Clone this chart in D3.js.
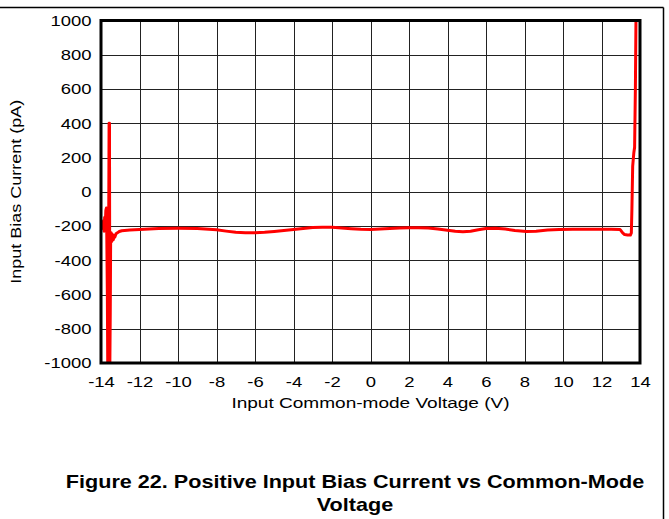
<!DOCTYPE html>
<html>
<head>
<meta charset="utf-8">
<script src="https://cdn.jsdelivr.net/npm/d3@7"></script>
<style>
  body { margin: 0; background: #fff; }
  svg { display: block; font-family: "Liberation Sans", Arial, sans-serif; }
</style>
</head>
<body>
<script>
// ticks
const xTicks = [-14, -12, -10, -8, -6, -4, -2, 0, 2, 4, 6, 8, 10, 12, 14];
const yTicks = [-1000, -800, -600, -400, -200, 0, 200, 400, 600, 800, 1000];

// bias current trace (V, pA)
const voltage = [
  -13.93, -13.9, -13.87, -13.84, -13.81, -13.78, -13.75, -13.72, -13.7, -13.67,
  -13.65, -13.62, -13.6, -13.58, -13.56, -13.54, -13.52, -13.5, -13.47, -13.44,
  -13.4, -13.36, -13.32, -13.28, -13.22, -13.15, -13.05, -12.92, -12.5, -12,
  -11, -10, -9, -8, -7.5, -7, -6.5, -6, -5.5, -5,
  -4.5, -4, -3.5, -3, -2.5, -2, -1.5, -1, -0.5, 0,
  0.5, 1, 1.5, 2, 2.5, 3, 3.5, 4, 4.4, 4.8,
  5.2, 5.6, 6, 6.5, 7, 7.5, 8.1, 8.6, 9.2, 9.8,
  10.5, 11.5, 12.5, 12.95, 13.02, 13.1, 13.2, 13.35, 13.5, 13.55,
  13.58, 13.62, 13.68, 13.72, 13.76, 13.79
];
const current = [
  -190, -215, -170, -230, -150, -200, -110, -95, -250, -600,
  -1000, -1000, -200, 400, 400, -1000, -720, -300, -240, -290,
  -250, -280, -255, -265, -245, -240, -232, -228, -224, -220,
  -214, -213, -214, -222, -230, -237, -240, -240, -237, -232,
  -226, -220, -214, -209, -207, -208, -212, -216, -219, -220,
  -218, -215, -212, -210, -210, -212, -217, -225, -231, -234,
  -231, -222, -215, -213, -218, -226, -232, -230, -224, -220,
  -219, -219, -219, -220, -228, -240, -250, -252, -253, -240,
  -100, 150, 228, 260, 600, 1000
];

const W = 669, H = 519;
const plot = { left: 101, top: 20.5, right: 640, bottom: 363 };

const svg = d3.select("body").append("svg")
  .attr("width", W)
  .attr("height", H);

// page frame lines
svg.append("line")
  .attr("x1", 0).attr("x2", 663.5)
  .attr("y1", 7.5).attr("y2", 7.5)
  .attr("stroke", "#000").attr("stroke-width", 1.5);
svg.append("line")
  .attr("x1", 663.5).attr("x2", 663.5)
  .attr("y1", 7.5).attr("y2", H)
  .attr("stroke", "#000").attr("stroke-width", 1.5);

const x = d3.scaleLinear().domain([-14, 14]).range([plot.left, plot.right]);
const y = d3.scaleLinear().domain([-1000, 1000]).range([plot.bottom, plot.top]);

// grid
const grid = svg.append("g").attr("stroke", "#222").attr("stroke-width", 1);
grid.selectAll("line.v").data(xTicks).join("line")
  .attr("class", "v")
  .attr("x1", d => Math.round(x(d)) + 0.5).attr("x2", d => Math.round(x(d)) + 0.5)
  .attr("y1", plot.top).attr("y2", plot.bottom);
grid.selectAll("line.h").data(yTicks).join("line")
  .attr("class", "h")
  .attr("y1", d => Math.round(y(d)) + 0.5).attr("y2", d => Math.round(y(d)) + 0.5)
  .attr("x1", plot.left).attr("x2", plot.right);

// clip to plot
svg.append("clipPath").attr("id", "clip")
  .append("rect")
  .attr("x", plot.left).attr("y", plot.top)
  .attr("width", plot.right - plot.left).attr("height", plot.bottom - plot.top);

const pts = voltage.map((v, i) => [v, current[i]]);
const line = d3.line().x(d => x(d[0])).y(d => y(d[1]));

svg.append("path")
  .datum(pts)
  .attr("clip-path", "url(#clip)")
  .attr("d", line)
  .attr("fill", "none")
  .attr("stroke", "#ff0000")
  .attr("stroke-width", 3)
  .attr("stroke-linejoin", "round");

// thick frame
svg.append("rect")
  .attr("x", plot.left).attr("y", plot.top)
  .attr("width", plot.right - plot.left).attr("height", plot.bottom - plot.top)
  .attr("fill", "none").attr("stroke", "#000").attr("stroke-width", 3);

// axes (labels only) - the source font is set wide, so stretch horizontally
const tickStretch = 1.23;
const xAxis = svg.append("g")
  .attr("transform", `translate(0,${plot.bottom + 1.5})`)
  .call(d3.axisBottom(x).tickValues(xTicks).tickSize(0).tickPadding(12).tickFormat(d3.format("d")));
const yAxis = svg.append("g")
  .attr("transform", `translate(${plot.left - 1.5},0)`)
  .call(d3.axisLeft(y).tickValues(yTicks).tickSize(0).tickPadding(8).tickFormat(d3.format("d")));
[xAxis, yAxis].forEach(a => {
  a.select(".domain").remove();
  a.selectAll("text")
    .attr("fill", "#000")
    .attr("transform", `scale(${tickStretch},1)`)
    .style("font-family", "'Liberation Sans', Arial, sans-serif")
    .style("font-size", "15px")
    .text(d => d < 0 ? "-" + Math.abs(d) : d);
});
yAxis.selectAll("text").attr("x", -8 / tickStretch);

// axis titles
svg.append("text")
  .attr("transform", `translate(${(plot.left + plot.right) / 2},408) scale(1.27,1)`)
  .attr("text-anchor", "middle")
  .style("font-size", "15px")
  .text("Input Common-mode Voltage (V)");

svg.append("text")
  .attr("transform", `translate(20.5,${(plot.top + plot.bottom) / 2}) rotate(-90) scale(1.2,1)`)
  .attr("text-anchor", "middle")
  .style("font-size", "15px")
  .text("Input Bias Current (pA)");

// figure caption
const cap = svg.append("g")
  .style("font-size", "18px")
  .style("font-weight", "bold")
  .attr("text-anchor", "middle");
cap.append("text")
  .attr("transform", "translate(355,488) scale(1.2,1)")
  .text("Figure 22. Positive Input Bias Current vs Common-Mode");
cap.append("text")
  .attr("transform", "translate(355,511) scale(1.2,1)")
  .text("Voltage");
</script>
</body>
</html>
